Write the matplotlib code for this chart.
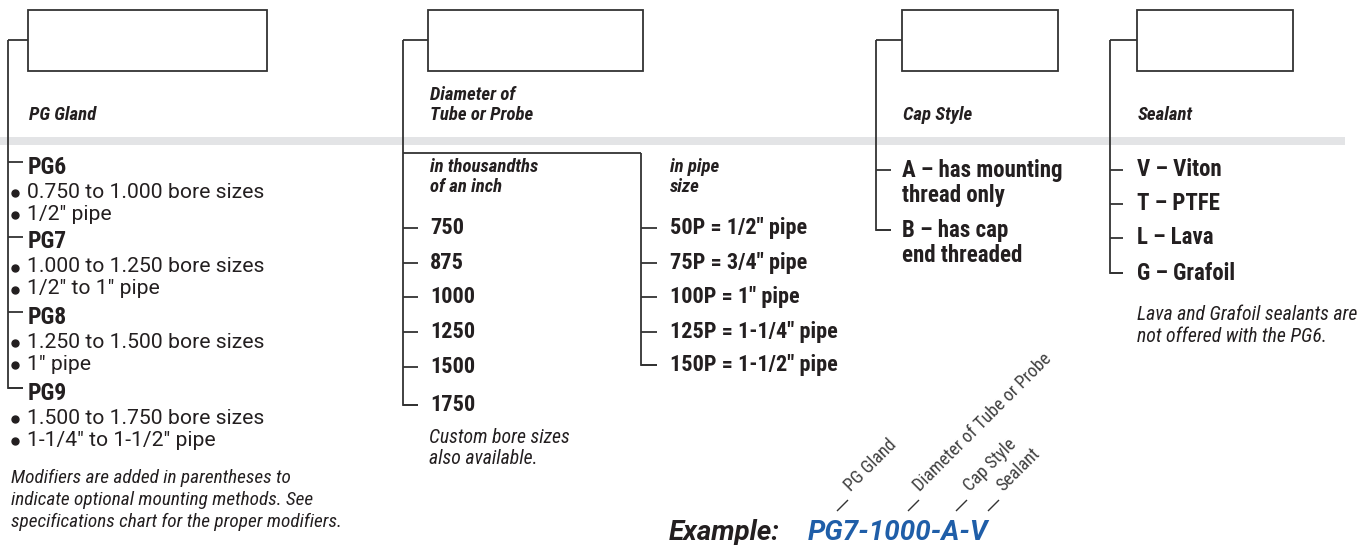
import matplotlib.pyplot as plt
from matplotlib import font_manager

# font: condensed for most text, plain Roboto for the bullet lines and the example code
names = set(f.name for f in font_manager.fontManager.ttflist)
COND = ['Roboto Condensed'] if 'Roboto Condensed' in names else ['Liberation Sans Narrow', 'Liberation Sans']
plt.rcParams['font.family'] = COND + ['DejaVu Sans']
WIDE = ['Roboto', 'DejaVu Sans']

# ---- data ----
headers = ['PG Gland', 'Diameter of\nTube or Probe', 'Cap Style', 'Sealant']
pg_names = ['PG6', 'PG7', 'PG8', 'PG9']
pg_bullets = [['0.750 to 1.000 bore sizes', '1/2" pipe'],
              ['1.000 to 1.250 bore sizes', '1/2" to 1" pipe'],
              ['1.250 to 1.500 bore sizes', '1" pipe'],
              ['1.500 to 1.750 bore sizes', '1-1/4" to 1-1/2" pipe']]
bore_sizes = ['750', '875', '1000', '1250', '1500', '1750']
pipe_sizes = ['50P = 1/2" pipe', '75P = 3/4" pipe', '100P = 1" pipe',
              '125P = 1-1/4" pipe', '150P = 1-1/2" pipe']
cap_styles = ['A \u2013 has mounting\nthread only', 'B \u2013 has cap\nend threaded']
sealants = ['V \u2013 Viton', 'T \u2013 PTFE', 'L \u2013 Lava', 'G \u2013 Grafoil']
example_parts = ['PG Gland', 'Diameter of Tube or Probe', 'Cap Style', 'Sealant']
example_code = 'PG7-1000-A-V'

LC = '#333333'
TC = '#231f20'
BLUE = '#1f5ea8'

fig = plt.figure(figsize=(13.69, 5.45), dpi=100)
ax = fig.add_axes([0, 0, 1, 1])
ax.set_xlim(0, 1369)
ax.set_ylim(545, 0)
ax.axis('off')


def line(xs, ys, lw=1.3, c=LC):
    ax.plot(xs, ys, color=c, lw=lw, solid_capstyle='butt', solid_joinstyle='miter')


def txt(x, y, s, size=15, weight='bold', style='normal', **kw):
    kw.setdefault('va', 'center')
    kw.setdefault('ha', 'left')
    ax.text(x, y, s, fontsize=size, fontweight=weight, fontstyle=style, color=kw.pop('color', TC), **kw)


def note(x, y, s, size=14.2, **kw):
    # italic side notes
    txt(x, y, s, size=size, weight='normal', style='italic', **kw)


# gray band
ax.fill_between([0, 1345], 137, 145, color='#e3e4e6', lw=0, zorder=0)

# boxes + bracket stems
boxes = [(28, 267, 8), (428, 643, 403), (902, 1058, 876), (1137, 1293, 1110)]
for (x0, x1, xs), h in zip(boxes, headers):
    ax.add_patch(plt.Rectangle((x0, 10), x1 - x0, 61, fill=False, ec=LC, lw=1.3))
    line([xs, x0], [40, 40])
    if '\n' in h:
        txt(x0 + 2, 105, h, size=13.5, style='italic', linespacing=1.15)
    else:
        txt(x0 + 1, 115, h, size=13.5, style='italic')

# column 1: PG gland
pg_y = [162, 237, 312, 388]
line([8, 8, 23], [40, pg_y[-1], pg_y[-1]])
for name, bl, y in zip(pg_names, pg_bullets, pg_y):
    line([8, 23], [y, y])
    txt(28, y + 5, name, size=17)
    for k, b in enumerate(bl):
        yy = y + 30 + 22 * k
        ax.plot(15, yy + 1, 'o', ms=5, color=TC)
        txt(27, yy, b, size=15.2, weight='normal', family=WIDE)
note(11, 500, 'Modifiers are added in parentheses to\nindicate optional mounting methods. See\n'
     'specifications chart for the proper modifiers.', size=13.9, linespacing=1.25)

# column 2: diameter
bore_y = [228, 263, 297, 332, 367, 405]
line([403, 403, 418], [40, bore_y[-1], bore_y[-1]])
line([403, 641], [153, 153])
for s, y in zip(bore_sizes, bore_y):
    line([403, 418], [y, y])
    txt(430, y, s, size=16)
txt(430, 177, 'in thousandths\nof an inch', size=13.5, style='italic', linespacing=1.15)
note(429, 448, 'Custom bore sizes\nalso available.', linespacing=1.15)

pipe_y = [228, 263, 297, 332, 365]
line([641, 641, 657], [153, pipe_y[-1], pipe_y[-1]])
for s, y in zip(pipe_sizes, pipe_y):
    line([641, 657], [y, y])
    txt(670, y, s, size=16)
txt(670, 177, 'in pipe\nsize', size=13.5, style='italic', linespacing=1.15)

# column 3: cap style
cap_y = [170, 230]
line([876, 876, 891], [40, cap_y[-1], cap_y[-1]])
for s, y in zip(cap_styles, cap_y):
    line([876, 891], [y, y])
    txt(902, y + 13, s, size=16.5, linespacing=1.13)

# column 4: sealant
seal_y = [170, 204, 238, 273]
line([1110, 1110, 1123], [40, seal_y[-1], seal_y[-1]])
for s, y in zip(sealants, seal_y):
    line([1110, 1123], [y, y])
    txt(1137, y, s, size=16.5)
note(1137, 326, 'Lava and Grafoil sealants are\nnot offered with the PG6.', linespacing=1.2)

# example
txt(780, 540, 'Example:', size=20, style='italic', va='baseline', ha='right', family=WIDE)
txt(808, 540, example_code, size=20, style='italic', va='baseline', color=BLUE, family=WIDE)
lab_x = [851, 920, 970, 1003]
tick_x = [837, 908, 956, 988]
for s, x, tx in zip(example_parts, lab_x, tick_x):
    line([tx, tx + 11], [511, 500], lw=1.0)
    ax.text(x, 492, s, fontsize=13, color='#404040', rotation=45, rotation_mode='anchor',
            ha='left', va='baseline')

fig.savefig('out.png', dpi=100)
